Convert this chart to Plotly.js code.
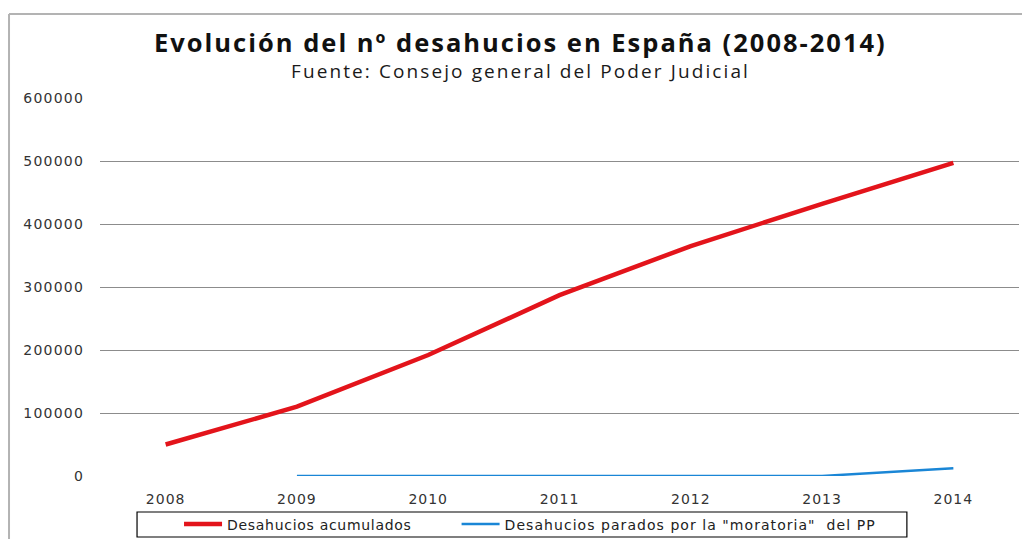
<!DOCTYPE html>
<html>
<head>
<meta charset="utf-8">
<script src="https://cdn.plot.ly/plotly-3.0.1.min.js"></script>
<style>
  html, body { margin: 0; padding: 0; background: #fff; }
  #chart { width: 1022px; height: 539px; }
</style>
</head>
<body>
<div id="chart"></div>
<script>
const years = ["2008", "2009", "2010", "2011", "2012", "2013", "2014"];
const acumulados = [50000, 110000, 192000, 287000, 365000, 432000, 497000];
const moratoria = [null, 0, 0, 0, 0, 0, 12500];
const yTicks = [0, 100000, 200000, 300000, 400000, 500000, 600000];
const seriesNames = ["Desahucios acumulados", "Desahucios parados por la \"moratoria\"  del PP"];
const titleText = "Evolución del nº desahucios en España (2008-2014)";
const subtitleText = "Fuente: Consejo general del Poder Judicial";

const sp = (t, ls) => "<span style='letter-spacing:" + ls + "px'>" + t + "</span>";
const pad = n => "&nbsp;".repeat(n);
const tickFont = { family: "DejaVu Sans, Verdana, sans-serif", size: 14, color: "#333333" };

const traces = [
  {
    x: years, y: acumulados, type: "scatter", mode: "lines",
    name: sp(seriesNames[0], 0.7) + pad(9),
    line: { color: "#e3141b", width: 4.5 }
  },
  {
    x: years, y: moratoria, type: "scatter", mode: "lines",
    name: sp(seriesNames[1].replace("  ", " &nbsp;"), 1.05),
    line: { color: "#1a86d6", width: 2.5 }
  }
];

const layout = {
  width: 1022, height: 539,
  margin: { l: 100, r: 3, t: 98, b: 63, autoexpand: false },
  paper_bgcolor: "#ffffff", plot_bgcolor: "#ffffff",
  showlegend: true,
  xaxis: {
    type: "category", range: [-0.5, 6.5],
    tickvals: years, ticktext: years.map(t => sp(t, 1)),
    showgrid: false, zeroline: false, showline: false,
    ticks: "", tickfont: tickFont, ticklabelstandoff: 13,
    fixedrange: true
  },
  yaxis: {
    range: [0, 600000], tickvals: yTicks, ticktext: yTicks.map(v => sp(String(v), 1.2)),
    showgrid: true, gridcolor: "#8c8c8c", gridwidth: 1,
    zeroline: false, showline: false, ticks: "",
    tickfont: tickFont, ticklabelstandoff: 15,
    fixedrange: true
  },
  legend: {
    orientation: "h", x: 0.086, xanchor: "left", y: -0.1283, yanchor: "middle",
    borderwidth: 0, bgcolor: "rgba(0,0,0,0)", itemwidth: 38,
    font: { family: "DejaVu Sans, Verdana, sans-serif", size: 14, color: "#222222" },
    tracegroupgap: 0
  },
  annotations: [
    { text: "<b>" + sp(titleText, 2) + "</b>", xref: "paper", yref: "paper",
      x: 0.4575, y: 1.148, xanchor: "center", yanchor: "middle", showarrow: false,
      font: { family: "Open Sans, sans-serif", size: 25.5, color: "#111111" } },
    { text: sp(subtitleText, 2.1), xref: "paper", yref: "paper",
      x: 0.4575, y: 1.0714, xanchor: "center", yanchor: "middle", showarrow: false,
      font: { family: "Open Sans, sans-serif", size: 19, color: "#1a1a1a" } }
  ],
  shapes: [
    { type: "line", xref: "paper", yref: "paper", x0: -0.0990, x1: 1.01, y0: 1.2222, y1: 1.2222,
      line: { color: "#b3b3b3", width: 2 } },
    { type: "line", xref: "paper", yref: "paper", x0: -0.0990, x1: -0.0990, y0: 1.2222, y1: -0.2,
      line: { color: "#b3b3b3", width: 2 } },
    { type: "rect", xref: "paper", yref: "paper", x0: 0.0403, x1: 0.878, y0: -0.1614, y1: -0.0952,
      line: { color: "#000000", width: 1.2 }, fillcolor: "rgba(0,0,0,0)" }
  ]
};

Plotly.newPlot("chart", traces, layout, { displayModeBar: false, staticPlot: true });
</script>
</body>
</html>
